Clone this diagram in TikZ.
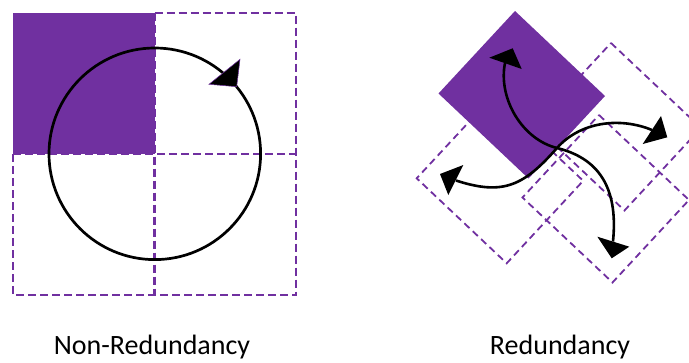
\documentclass[tikz,border=0pt]{standalone}
\usepackage{fontspec}
\setmainfont{Carlito}
\definecolor{ppurple}{RGB}{112,48,160}
\begin{document}
\begin{tikzpicture}[x=1pt,y=-1pt,
  cellbox/.style={draw=ppurple, line width=2.1pt, dash pattern=on 8pt off 4pt},
  rotbox/.style={draw=ppurple, line width=1.8pt, dash pattern=on 7pt off 4.5pt},
  fillbox/.style={fill=ppurple},
  arcline/.style={draw=black, line width=2.6pt},
  tiphead/.style={fill=black},
  captext/.style={font=\fontsize{28}{34}\selectfont, anchor=base, inner sep=0pt}
]
\useasboundingbox (0,0) rectangle (689,362);

% ---- Non-Redundancy ----
\coordinate (tl) at (13.3,12.7);
\coordinate (tm) at (154.5,12.7);
\coordinate (tr) at (295.7,12.7);
\coordinate (ml) at (13.3,154.3);
\coordinate (mm) at (154.5,154.3);
\coordinate (mr) at (295.7,154.3);
\coordinate (bl) at (13.3,295.3);
\coordinate (bm) at (154.5,295.3);
\coordinate (br) at (295.7,295.3);
\fill[fillbox] (tl) rectangle (mm);
\draw[cellbox] (tm) -- (tr) -- (br) -- (bl) -- (ml);
\draw[cellbox] (tm) -- (bm);
\draw[cellbox] (ml) -- (mr);
\coordinate (cc) at (154.8,153.8);
\draw[black, line width=2.7pt] (cc) circle[radius=105.8pt];
\filldraw[tiphead, draw=ppurple, line width=0.5pt] (209,84.3) -- (240,59.3) -- (236.7,86.7) -- cycle;

% ---- Redundancy ----
\foreach \dx/\dy in {-21.8/84.8, 96/32, 84/104}
  \draw[rotbox, shift={(\dx,\dy)}] (515,11) -- ++(90,85) -- ++(-76.5,82.5) -- ++(-90,-85) -- cycle;
\fill[fillbox] (515,11) -- ++(90,85) -- ++(-76.5,82.5) -- ++(-90,-85) -- cycle;

\coordinate (P) at (557,148);
\coordinate (Bup) at (505,63);
\coordinate (Bdn) at (613,241.5);
\coordinate (Bl) at (456,180.5);
\coordinate (Br) at (652,130);
\draw[arcline] (Bup) .. controls (497.9,98.3) and (522.1,139.4) .. (P)
                     .. controls (603.6,159.5) and (617.8,193.7) .. (Bdn);
\draw[arcline] (Bl) .. controls (503.5,196) and (524,185.5) .. (P)
                    .. controls (580.1,121.8) and (619.8,116.7) .. (Br);
\fill[tiphead] (489.3,57.7) -- (512.7,48.3) -- (521.7,69) -- cycle;
\fill[tiphead] (642.7,144) -- (661,116) -- (667.3,137.3) -- cycle;
\fill[tiphead] (440,174) -- (463.3,165) -- (448.3,195) -- cycle;
\fill[tiphead] (597.3,236.7) -- (629.3,246.7) -- (611.7,258.3) -- cycle;

% ---- captions ----
\node[captext] (nr) at (152,354.5) {Non-Redundancy};
\node[captext] (rd) at (560,354.5) {Redundancy};
\end{tikzpicture}
\end{document}
